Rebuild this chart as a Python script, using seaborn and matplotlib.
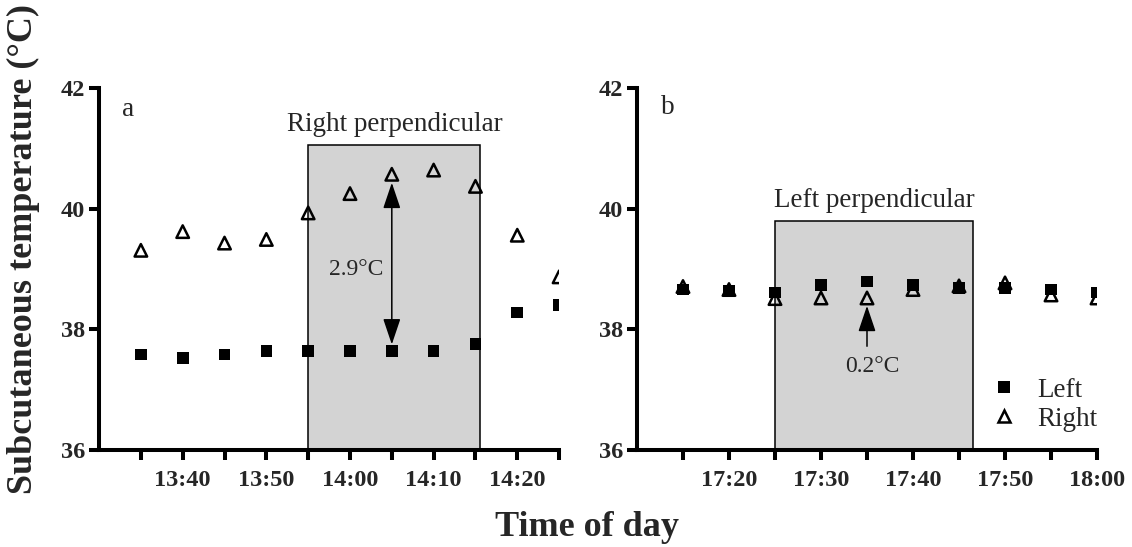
import matplotlib
matplotlib.use("Agg")
import numpy as np
import pandas as pd
import matplotlib.pyplot as plt
import seaborn as sns
from matplotlib.lines import Line2D
from matplotlib.patches import Rectangle

# ---------------- data ----------------
times_a = ["13:35", "13:40", "13:45", "13:50", "13:55", "14:00",
           "14:05", "14:10", "14:15", "14:20", "14:25"]
left_a = [37.58, 37.52, 37.58, 37.64, 37.64, 37.64, 37.64, 37.64, 37.76, 38.28, 38.40]
right_a = [39.31, 39.62, 39.43, 39.49, 39.93, 40.25, 40.57, 40.64, 40.37, 39.56, 38.87]

times_b = ["17:15", "17:20", "17:25", "17:30", "17:35", "17:40",
           "17:45", "17:50", "17:55", "18:00"]
left_b = [38.66, 38.64, 38.61, 38.73, 38.79, 38.73, 38.69, 38.69, 38.66, 38.61]
right_b = [38.71, 38.66, 38.51, 38.52, 38.52, 38.66, 38.72, 38.77, 38.57, 38.52]

xlim_a = ["13:30", "14:25"]
xlim_b = ["17:10", "18:00"]
tick_labels_a = ["13:40", "13:50", "14:00", "14:10", "14:20"]
tick_labels_b = ["17:20", "17:30", "17:40", "17:50", "18:00"]
yticks = [36, 38, 40, 42]

period_a = ["13:55", "14:15:30"]
period_b = ["17:25", "17:46:30"]
period_top_a = 41.05
period_top_b = 39.80
label_a = "Right perpendicular"
label_b = "Left perpendicular"
diff_a = "2.9°C"
diff_b = "0.2°C"


def to_min(s):
    parts = [int(p) for p in s.split(":")]
    m = parts[0] * 60 + parts[1]
    if len(parts) > 2:
        m += parts[2] / 60
    return m


def make_df(times, left, right):
    t = [to_min(s) for s in times]
    return pd.DataFrame({
        "minute": t * 2,
        "temp": list(left) + list(right),
        "side": ["Left"] * len(t) + ["Right"] * len(t),
    })


df_a = make_df(times_a, left_a, right_a)
df_b = make_df(times_b, left_b, right_b)

# ---------------- style ----------------
sns.set_theme(style="ticks")
plt.rcParams["font.family"] = ["Liberation Serif", "DejaVu Serif"]
plt.rcParams["axes.linewidth"] = 2.9

fig = plt.figure(figsize=(11.32, 5.47), dpi=100)
ax_a = fig.add_axes([0.0875, 0.1773, 0.4064, 0.6618])
ax_b = fig.add_axes([0.5627, 0.1773, 0.4064, 0.6618])

SQ = 70
TRI = 81
TICK_FS = 17.5
ANN_FS = 19.5


def draw_panel(ax, df, times, xlim, tick_labels, period, top, title, letter,
               letter_pos, title_pos):
    x0, x1 = to_min(period[0]), to_min(period[1])
    ax.add_patch(Rectangle((x0, 36), x1 - x0, top - 36, facecolor="#d3d3d3",
                           edgecolor="black", linewidth=1.1, zorder=1))
    sns.scatterplot(data=df[df.side == "Left"], x="minute", y="temp", marker="s",
                    s=SQ, color="black", edgecolor="none", linewidth=0, ax=ax,
                    zorder=3, legend=False)
    sns.scatterplot(data=df[df.side == "Right"], x="minute", y="temp", marker="^",
                    s=TRI, facecolor="none", edgecolor="black", linewidth=1.8,
                    ax=ax, zorder=4, legend=False)
    ax.set_xlim(to_min(xlim[0]), to_min(xlim[1]))
    ax.set_ylim(36, 42)
    tick_pos = [to_min(t) for t in times]
    ax.set_xticks(tick_pos)
    lab_set = set(tick_labels)
    ax.set_xticklabels([t if t in lab_set else "" for t in times],
                       fontweight="bold", fontsize=TICK_FS)
    ax.set_yticks(yticks)
    ax.set_yticklabels([str(v) for v in yticks], fontweight="bold", fontsize=TICK_FS)
    ax.tick_params(axis="both", direction="out", length=7, width=2.9, color="black")
    ax.tick_params(axis="x", pad=7.5)
    ax.tick_params(axis="y", pad=3)
    for s in ["top", "right"]:
        ax.spines[s].set_visible(False)
    for s in ["left", "bottom"]:
        ax.spines[s].set_color("black")
    ax.set_xlabel("")
    ax.set_ylabel("")
    ax.text(to_min(letter_pos[0]), letter_pos[1], letter, fontsize=ANN_FS,
            ha="center", va="center")
    ax.text(to_min(title_pos[0]), title_pos[1], title, fontsize=ANN_FS,
            ha="center", va="center")


draw_panel(ax_a, df_a, times_a, xlim_a, tick_labels_a, period_a, period_top_a,
           label_a, "a", ("13:33:30", 41.64), ("14:05:18", 41.40))
draw_panel(ax_b, df_b, times_b, xlim_b, tick_labels_b, period_b, period_top_b,
           label_b, "b", ("17:13:18", 41.67), ("17:35:48", 40.14))

# arrows & differences
head = "head_length=0.8,head_width=0.27"
ax_a.annotate("", xy=(to_min("14:05"), 40.43), xytext=(to_min("14:05"), 37.75),
              arrowprops=dict(arrowstyle="<|-|>," + head, mutation_scale=20,
                              color="black", lw=1.1, shrinkA=0, shrinkB=0),
              zorder=5)
ax_a.text(to_min("14:00:42"), 38.99, diff_a, fontsize=17, ha="center", va="center")

ax_b.annotate("", xy=(to_min("17:35"), 38.39), xytext=(to_min("17:35"), 37.72),
              arrowprops=dict(arrowstyle="-|>," + head, mutation_scale=20,
                              color="black", lw=1.1, shrinkA=0, shrinkB=0),
              zorder=5)
ax_b.text(to_min("17:35:36"), 37.39, diff_b, fontsize=17, ha="center", va="center")

# legend
handles = [
    Line2D([], [], linestyle="none", marker="s", markersize=np.sqrt(SQ),
           markerfacecolor="black", markeredgewidth=0, color="black"),
    Line2D([], [], linestyle="none", marker="^", markersize=np.sqrt(TRI),
           markerfacecolor="none", markeredgecolor="black", markeredgewidth=1.8),
]
ax_b.legend(handles, ["Left", "Right"], loc="lower right",
            bbox_to_anchor=(1.0, 0.05), frameon=False, fontsize=ANN_FS,
            handlelength=1.0, handletextpad=0.7, labelspacing=0.15,
            borderpad=0, borderaxespad=0)

fig.text(0.021, 0.545, "Subcutaneous temperature (°C)", rotation=90,
         fontsize=26, fontweight="bold", ha="center", va="center")
fig.text(0.5186, 0.020, "Time of day", fontsize=26, fontweight="bold",
         ha="center", va="baseline")

fig.savefig("out.png", dpi=100)
